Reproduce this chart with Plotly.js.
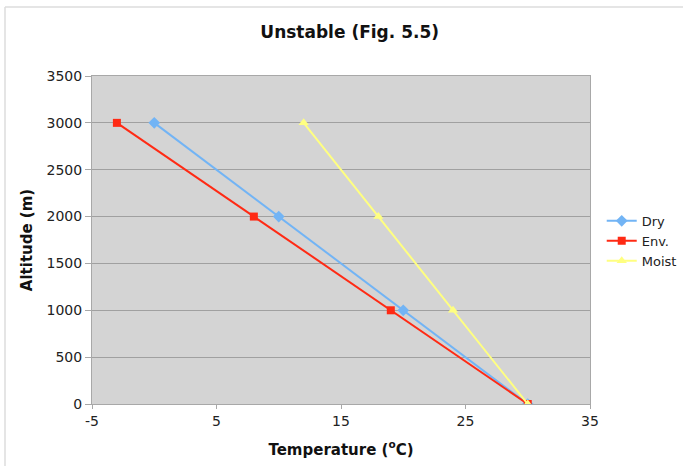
<!DOCTYPE html>
<html>
<head>
<meta charset="utf-8">
<script src="https://cdn.plot.ly/plotly-3.0.1.min.js"></script>
<style>html,body{margin:0;padding:0;background:#fff;}#chart{width:683px;height:466px;}</style>
</head>
<body>
<div id="chart"></div>
<script>
const altitude = [0, 1000, 2000, 3000];
const dryTemp = [30, 20, 10, 0];
const envTemp = [30, 19, 8, -3];
const moistTemp = [30, 24, 18, 12];
const xTicks = [-5, 5, 15, 25, 35];
const yTicks = [0, 500, 1000, 1500, 2000, 2500, 3000, 3500];

const font = "Verdana, 'DejaVu Sans', sans-serif";

const traces = [
  {name: 'Dry', x: dryTemp, y: altitude, mode: 'lines+markers', type: 'scatter',
   line: {color: '#72b4f5', width: 2}, marker: {symbol: 'diamond', size: 9, color: '#72b4f5'}},
  {name: 'Env.', x: envTemp, y: altitude, mode: 'lines+markers', type: 'scatter',
   line: {color: '#ff2a14', width: 2}, marker: {symbol: 'square', size: 8, color: '#ff2a14'}},
  {name: 'Moist', x: moistTemp, y: altitude, mode: 'lines+markers', type: 'scatter',
   line: {color: '#ffff80', width: 2}, marker: {symbol: 'triangle-up', size: 9, color: '#ffff80'}}
];

const layout = {
  width: 683, height: 466,
  margin: {l: 92, r: 93, t: 76, b: 62, autoexpand: false},
  paper_bgcolor: '#ffffff',
  plot_bgcolor: '#d4d4d4',
  font: {family: font, size: 14, color: '#222'},
  title: {text: '<b>Unstable (Fig. 5.5)</b>', font: {family: font, size: 17, color: '#111'},
          x: 0.512, xanchor: 'center', y: 0.932, yanchor: 'middle'},
  xaxis: {range: [-5, 35], tickvals: xTicks, ticktext: xTicks.map(String),
          showgrid: false, zeroline: false, showline: true, linecolor: '#a8a8a8', linewidth: 1,
          mirror: true, ticks: 'outside', ticklen: 4, tickcolor: '#a8a8a8',
          title: {text: '<b>Temperature (<sup>o</sup>C)</b>', font: {family: font, size: 15, color: '#111'}, standoff: 16},
          automargin: false, fixedrange: true},
  yaxis: {range: [0, 3500], tickvals: yTicks, ticktext: yTicks.map(String),
          showgrid: true, gridcolor: '#a0a0a0', gridwidth: 1, zeroline: false,
          showline: true, linecolor: '#a8a8a8', linewidth: 1, mirror: true,
          ticks: 'outside', ticklen: 6, tickcolor: '#a8a8a8',
          title: {text: '<b>Altitude (m)</b>', font: {family: font, size: 15, color: '#111'}, standoff: 10},
          automargin: false, fixedrange: true},
  legend: {xref: 'container', yref: 'container', x: 0.881, y: 0.483, xanchor: 'left', yanchor: 'middle',
           font: {family: font, size: 13, color: '#222'}, bgcolor: 'rgba(0,0,0,0)',
           tracegroupgap: 0, itemwidth: 30},
  showlegend: true,
  shapes: [
    {type: 'line', xref: 'paper', yref: 'paper', x0: -0.1747, x1: -0.1747, y0: -0.2, y1: 1.2104,
     line: {color: '#dddddd', width: 1.5}},
    {type: 'line', xref: 'paper', yref: 'paper', x0: -0.1747, x1: 1.2, y0: 1.2104, y1: 1.2104,
     line: {color: '#dddddd', width: 1.5}}
  ]
};

Plotly.newPlot('chart', traces, layout, {displayModeBar: false, staticPlot: true});
</script>
</body>
</html>
